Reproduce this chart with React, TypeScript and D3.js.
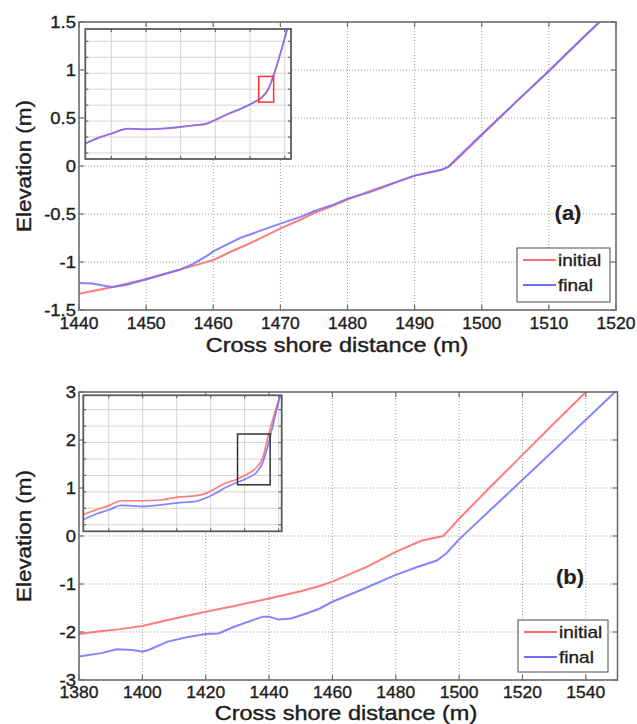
import React from "react";
import * as d3 from "d3";

// ---------- Data ----------
const panelA_initial_x = [1440, 1443, 1445, 1448, 1450, 1453, 1455, 1457, 1460, 1463, 1465, 1468, 1470, 1473, 1475, 1478, 1480, 1483, 1485, 1488, 1490, 1492, 1494, 1495, 1496, 1500, 1505, 1510, 1515, 1518];
const panelA_initial_y = [-1.33, -1.29, -1.26, -1.21, -1.18, -1.12, -1.08, -1.04, -0.98, -0.88, -0.82, -0.72, -0.65, -0.56, -0.49, -0.41, -0.35, -0.27, -0.22, -0.15, -0.1, -0.07, -0.04, -0.01, 0.05, 0.32, 0.66, 0.99, 1.33, 1.53];
const panelA_final_x = [1440, 1442, 1444, 1445, 1447, 1450, 1453, 1455, 1457, 1459, 1460, 1462, 1464, 1466, 1468, 1470, 1473, 1475, 1478, 1480, 1483, 1485, 1488, 1490, 1492, 1494, 1495, 1496, 1500, 1505, 1510, 1515, 1518];
const panelA_final_y = [-1.22, -1.225, -1.25, -1.26, -1.24, -1.18, -1.12, -1.08, -1.02, -0.94, -0.89, -0.82, -0.75, -0.7, -0.65, -0.6, -0.53, -0.47, -0.4, -0.34, -0.28, -0.23, -0.15, -0.1, -0.07, -0.04, -0.01, 0.06, 0.33, 0.66, 0.99, 1.33, 1.53];

const panelB_initial_x = [1380, 1386, 1393, 1400, 1408, 1420, 1429, 1440, 1450, 1456, 1460, 1471, 1480, 1488, 1495, 1500, 1510, 1520, 1530, 1540, 1545];
const panelB_initial_y = [-2.04, -1.99, -1.94, -1.875, -1.75, -1.58, -1.46, -1.3, -1.15, -1.04, -0.95, -0.64, -0.33, -0.1, 0.0, 0.36, 1.03, 1.69, 2.35, 3.0, 3.33];
const panelB_final_x = [1380, 1387, 1392, 1397, 1400, 1402, 1408, 1414, 1420, 1424, 1429, 1438, 1440, 1443, 1447, 1452, 1456, 1460, 1469, 1480, 1487, 1493, 1496, 1500, 1510, 1520, 1530, 1540, 1547, 1550];
const panelB_final_y = [-2.51, -2.44, -2.36, -2.375, -2.41, -2.375, -2.2, -2.11, -2.04, -2.03, -1.89, -1.68, -1.68, -1.74, -1.72, -1.61, -1.51, -1.37, -1.125, -0.81, -0.64, -0.51, -0.36, -0.07, 0.55, 1.17, 1.79, 2.42, 2.86, 3.05];

const insetA_x = [925, 962, 1000, 1048, 1096, 1144, 1192, 1240, 1274, 1302, 1336, 1374, 1413, 1432, 1451, 1471, 1490, 1507];
const insetA_initial_y = [-6.42, -6.06, -5.79, -5.48, -5.52, -5.48, -5.39, -5.27, -5.17, -4.92, -4.56, -4.23, -3.81, -3.56, -3.08, -1.94, -0.58, 0.73];
const insetA_final_y = [-6.4, -6.05, -5.78, -5.47, -5.51, -5.47, -5.38, -5.26, -5.16, -4.9, -4.55, -4.22, -3.8, -3.55, -3.05, -1.92, -0.56, 0.75];
const insetA_box = [1425, 1468, -3.81, -2.2];

const insetB_x = [925, 963, 1002, 1036, 1100, 1159, 1198, 1257, 1286, 1316, 1345, 1374, 1404, 1433, 1453, 1468, 1487, 1505];
const insetB_initial_y = [-6.39, -6.09, -5.82, -5.54, -5.54, -5.48, -5.33, -5.23, -5.09, -4.77, -4.46, -4.26, -3.96, -3.55, -2.94, -1.72, -0.3, 0.88];
const insetB_final_y = [-6.7, -6.35, -6.09, -5.82, -5.88, -5.78, -5.68, -5.58, -5.37, -5.07, -4.72, -4.46, -4.2, -3.85, -3.24, -2.23, -0.61, 0.88];
const insetB_box = [1379, 1475, -4.57, -1.48];

const panelA_xticks = [1440, 1450, 1460, 1470, 1480, 1490, 1500, 1510, 1520];
const panelA_yticks = [-1.5, -1, -0.5, 0, 0.5, 1, 1.5];
const panelB_xticks = [1380, 1400, 1420, 1440, 1460, 1480, 1500, 1520, 1540];
const panelB_yticks = [-3, -2, -1, 0, 1, 2, 3];
const inset_xticks = [1000, 1100, 1200, 1300, 1400, 1500];
const inset_yticks = [-7, -6, -5, -4, -3, -2, -1, 0];

const seriesNames = ["initial", "final"];
const panelLabels = ["(a)", "(b)"];
const xTitle = "Cross shore distance (m)";
const yTitle = "Elevation (m)";

// ---------- Style ----------
const FONT = "Arial, 'Liberation Sans', Helvetica, sans-serif";
const RED = "#ff6f6f";
const BLUE = "#7070ff";
const AXIS = "#6e6e6e";
const TXT = "#1e1e1e";

const zip = (xs: number[], ys: number[]) => xs.map((x, i) => [x, ys[i]] as [number, number]);

function STxt({ x, y, sx = 1, anchor = "middle", size, weight = "normal", children, rotate = 0, sw = 0.35 }: any) {
  return (
    <text
      transform={`translate(${x},${y}) rotate(${rotate}) scale(${sx},1)`}
      textAnchor={anchor}
      fontFamily={FONT}
      fontSize={size}
      fontWeight={weight}
      fill={TXT}
      stroke={TXT}
      strokeWidth={sw}
    >
      {children}
    </text>
  );
}

function Inset({ id, box, xDom, yDom, xs, y1, y2, rect, rectColor }: any) {
  const [l, t, r, b] = box;
  const xs_ = d3.scaleLinear().domain(xDom).range([l, r]);
  const ys_ = d3.scaleLinear().domain(yDom).range([b, t]);
  const line = d3.line<[number, number]>().x((d) => xs_(d[0])).y((d) => ys_(d[1])).curve(d3.curveMonotoneX);
  const tl = 3;
  return (
    <g>
      <rect x={l} y={t} width={r - l} height={b - t} fill="#fff" />
      <clipPath id={id}>
        <rect x={l} y={t} width={r - l} height={b - t} />
      </clipPath>
      {inset_xticks.map((v) => (
        <line key={"gx" + v} x1={xs_(v)} x2={xs_(v)} y1={t} y2={b} stroke="#d0d0d0" strokeWidth={0.9} />
      ))}
      {inset_yticks.map((v) => (
        <line key={"gy" + v} x1={l} x2={r} y1={ys_(v)} y2={ys_(v)} stroke="#d0d0d0" strokeWidth={0.9} />
      ))}
      {inset_xticks.map((v) => (
        <g key={"tx" + v} stroke="#555" strokeWidth={1}>
          <line x1={xs_(v)} x2={xs_(v)} y1={t} y2={t + tl} />
          <line x1={xs_(v)} x2={xs_(v)} y1={b} y2={b - tl} />
        </g>
      ))}
      {inset_yticks.map((v) => (
        <g key={"ty" + v} stroke="#555" strokeWidth={1}>
          <line x1={l} x2={l + tl} y1={ys_(v)} y2={ys_(v)} />
          <line x1={r} x2={r - tl} y1={ys_(v)} y2={ys_(v)} />
        </g>
      ))}
      <g clipPath={`url(#${id})`}>
        <path d={line(zip(xs, y1)) || ""} fill="none" stroke={RED} strokeWidth={1.7} strokeOpacity={0.9} />
        <path d={line(zip(xs, y2)) || ""} fill="none" stroke={BLUE} strokeWidth={1.7} strokeOpacity={0.85} />
      </g>
      <rect
        x={xs_(rect[0])}
        y={ys_(rect[3])}
        width={xs_(rect[1]) - xs_(rect[0])}
        height={ys_(rect[2]) - ys_(rect[3])}
        fill="none"
        stroke={rectColor}
        strokeWidth={1.5}
      />
      <rect x={l} y={t} width={r - l} height={b - t} fill="none" stroke="#5a5a5a" strokeWidth={1.8} />
    </g>
  );
}

function Panel({ id, box, xDom, yDom, xticks, yticks, s1, s2, label, labelPos, legend, xTitlePos, yTitleY, xLabelY, inset }: any) {
  const [l, t, r, b] = box;
  const x = d3.scaleLinear().domain(xDom).range([l, r]);
  const y = d3.scaleLinear().domain(yDom).range([b, t]);
  const line = d3.line<[number, number]>().x((d) => x(d[0])).y((d) => y(d[1]));
  const tl = 5;
  const fmt = (v: number) => String(v);
  return (
    <g>
      <clipPath id={id}>
        <rect x={l} y={t} width={r - l} height={b - t} />
      </clipPath>
      {xticks.map((v: number) => (
        <line key={"gx" + v} x1={x(v)} x2={x(v)} y1={t} y2={b} stroke="#9a9a9a" strokeWidth={1} strokeDasharray="1,2" />
      ))}
      {yticks.map((v: number) => (
        <line key={"gy" + v} x1={l} x2={r} y1={y(v)} y2={y(v)} stroke="#9a9a9a" strokeWidth={1} strokeDasharray="1,2" />
      ))}
      <g clipPath={`url(#${id})`}>
        <path d={line(s1) || ""} fill="none" stroke={RED} strokeWidth={2} strokeOpacity={0.9} />
        <path d={line(s2) || ""} fill="none" stroke={BLUE} strokeWidth={2} strokeOpacity={0.85} />
      </g>
      {xticks.map((v: number) => (
        <g key={"tx" + v} stroke={AXIS} strokeWidth={1.2}>
          <line x1={x(v)} x2={x(v)} y1={t} y2={t + tl} />
          <line x1={x(v)} x2={x(v)} y1={b} y2={b - tl} />
        </g>
      ))}
      {yticks.map((v: number) => (
        <g key={"ty" + v} stroke={AXIS} strokeWidth={1.2}>
          <line x1={l} x2={l + tl} y1={y(v)} y2={y(v)} />
          <line x1={r} x2={r - tl} y1={y(v)} y2={y(v)} />
        </g>
      ))}
      {inset}
      <rect x={l} y={t} width={r - l} height={b - t} fill="none" stroke={AXIS} strokeWidth={1.6} />
      {xticks.map((v: number) => (
        <STxt key={"lx" + v} x={x(v)} y={xLabelY} size={16.5} sx={1.06}>
          {fmt(v)}
        </STxt>
      ))}
      {yticks.map((v: number) => (
        <STxt key={"ly" + v} x={l - 3} y={y(v) + 6} size={16.5} sx={1.12} anchor="end">
          {fmt(v)}
        </STxt>
      ))}
      <STxt x={xTitlePos[0]} y={xTitlePos[1]} size={21} sx={1.12} sw={0.4}>
        {xTitle}
      </STxt>
      <STxt x={31} y={yTitleY} size={20} sx={1.12} rotate={-90} sw={0.4}>
        {yTitle}
      </STxt>
      <STxt x={labelPos[0]} y={labelPos[1]} size={20} sx={1.1} weight="bold" sw={0.2}>
        {label}
      </STxt>
      <g>
        <rect x={legend.x} y={legend.y} width={legend.w} height={legend.h} fill="#fff" stroke="#4a4a4a" strokeWidth={1} />
        {seriesNames.map((n, i) => {
          const ly = legend.y + 12 + i * 25;
          return (
            <g key={n}>
              <line x1={legend.x + 6} x2={legend.x + 39} y1={ly} y2={ly} stroke={i === 0 ? RED : BLUE} strokeWidth={2} />
              <STxt x={legend.x + 41} y={ly + 6} size={17} sx={1.12} anchor="start">
                {n}
              </STxt>
            </g>
          );
        })}
      </g>
    </g>
  );
}

export default function App() {
  return (
    <svg width={637} height={724} style={{ position: "absolute", left: 0, top: 0, background: "#fff" }}>
      <rect x={0} y={0} width={637} height={724} fill="#fff" />
      <Panel
        id="clipA"
        box={[79, 22, 616, 310]}
        xDom={[1440, 1520]}
        yDom={[-1.5, 1.5]}
        xticks={panelA_xticks}
        yticks={panelA_yticks}
        s1={zip(panelA_initial_x, panelA_initial_y)}
        s2={zip(panelA_final_x, panelA_final_y)}
        label={panelLabels[0]}
        labelPos={[568, 220]}
        legend={{ x: 517, y: 248, w: 93, h: 54 }}
        xTitlePos={[337, 352]}
        yTitleY={166}
        xLabelY={329}
        inset={
          <Inset
            id="clipIA"
            box={[85.3, 29, 291, 159]}
            xDom={[925, 1518]}
            yDom={[-7.375, 0.77]}
            xs={insetA_x}
            y1={insetA_initial_y}
            y2={insetA_final_y}
            rect={insetA_box}
            rectColor="#ff3030"
          />
        }
      />
      <Panel
        id="clipB"
        box={[79, 392, 617.5, 680]}
        xDom={[1380, 1550]}
        yDom={[-3, 3]}
        xticks={panelB_xticks}
        yticks={panelB_yticks}
        s1={zip(panelB_initial_x, panelB_initial_y)}
        s2={zip(panelB_final_x, panelB_final_y)}
        label={panelLabels[1]}
        labelPos={[570, 584]}
        legend={{ x: 518, y: 620, w: 90, h: 52 }}
        xTitlePos={[346, 720]}
        yTitleY={536}
        xLabelY={698}
        inset={
          <Inset
            id="clipIB"
            box={[83.3, 395.3, 281.7, 531.3]}
            xDom={[925, 1509]}
            yDom={[-7.4, 0.876]}
            xs={insetB_x}
            y1={insetB_initial_y}
            y2={insetB_final_y}
            rect={insetB_box}
            rectColor="#333"
          />
        }
      />
    </svg>
  );
}
